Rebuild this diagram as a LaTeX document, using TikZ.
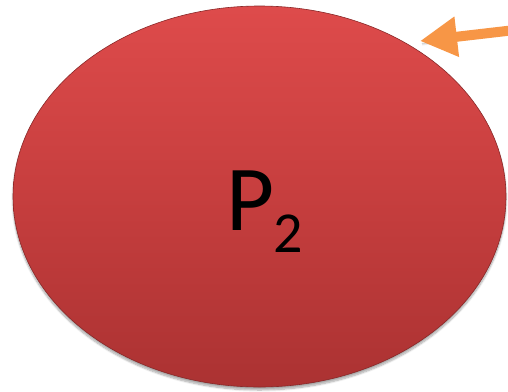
\documentclass[tikz,border=0pt]{standalone}
\usepackage{fontspec}
\setmainfont{Carlito}
\usetikzlibrary{arrows.meta,shadows.blur,shapes.geometric}
\definecolor{redtop}{HTML}{DE4B4B}
\definecolor{redmid}{HTML}{C63E3E}
\definecolor{redbot}{HTML}{AB3232}
\definecolor{arroworange}{HTML}{F79646}
\tikzset{
  blob/.style={ellipse, minimum width=493pt, minimum height=381pt, inner sep=0pt,
    top color=redtop, bottom color=redbot, middle color=redmid,
    draw=redbot!80!black, line width=0.6pt,
    blur shadow={shadow xshift=0pt, shadow yshift=-3pt, shadow blur steps=8, shadow opacity=35}},
  pointer/.style={draw=arroworange, line width=10pt,
    -{Triangle[width=38pt,length=37pt]},
    blur shadow={shadow xshift=2pt, shadow yshift=-3pt, shadow blur steps=6, shadow opacity=30}},
  bigtext/.style={text=black, inner sep=0pt}
}
\begin{document}
\begin{tikzpicture}[x=1pt,y=-1pt]
  \useasboundingbox (0,0) rectangle (508,391);
  \node[blob] (p2) at (259.5,196.5) {};
  \node[bigtext, anchor=base west] (lbl) at (226,230)
    {\fontsize{93}{93}\selectfont P\kern-1pt\raisebox{-22pt}{\fontsize{58}{58}\selectfont 2}};
  \coordinate (tail) at (515,30);
  \coordinate (tip) at (420,41);
  \draw[pointer] (tail) -- (tip);
\end{tikzpicture}
\end{document}
